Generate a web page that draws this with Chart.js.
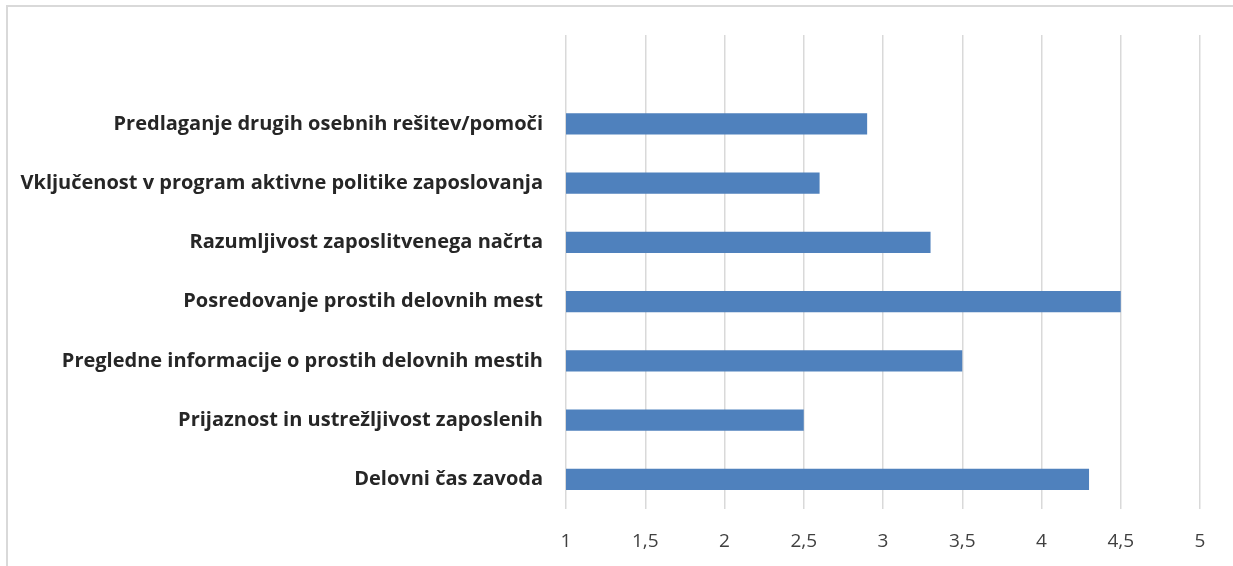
<!DOCTYPE html>
<html>
<head>
<meta charset="utf-8">
<script src="https://cdn.jsdelivr.net/npm/chart.js@4"></script>
<style>
  html, body { margin: 0; padding: 0; background: #fff; overflow: hidden; }
  #wrap { position: relative; width: 1233px; height: 566px; }
  #frame {
    position: absolute; left: 6px; top: 5px; width: 1300px; height: 600px;
    border-top: 2px solid #d9d9d9; border-left: 2px solid #d9d9d9;
  }
  #chart { position: absolute; left: 0; top: 0; }
</style>
</head>
<body>
<div id="wrap">
  <div id="frame"></div>
  <canvas id="chart" width="1233" height="566"></canvas>
</div>
<script>
// average ratings per service aspect (scale 1-5); first row is left blank on purpose
const categories = [
    '',
    'Predlaganje drugih osebnih rešitev/pomoči',
    'Vključenost v program aktivne politike zaposlovanja',
    'Razumljivost zaposlitvenega načrta',
    'Posredovanje prostih delovnih mest',
    'Pregledne informacije o prostih delovnih mestih',
    'Prijaznost in ustrežljivost zaposlenih',
    'Delovni čas zavoda'
];
const ratings = [null, 2.9, 2.6, 3.3, 4.5, 3.5, 2.5, 4.3];
const scaleMin = 1;
const scaleMax = 5;
const scaleStep = 0.5;

const ctx = document.getElementById('chart').getContext('2d');

new Chart(ctx, {
    type: 'bar',
    data: {
        labels: categories,
        datasets: [{
            data: ratings,
            backgroundColor: '#4f81bd',
            borderWidth: 0,
            barPercentage: 0.355,
            categoryPercentage: 1
        }]
    },
    options: {
        indexAxis: 'y',
        responsive: false,
        animation: false,
        devicePixelRatio: 1,
        layout: { padding: { top: 35, right: 33, left: 0, bottom: 0 } },
        plugins: {
            legend: { display: false },
            tooltip: { enabled: false },
            title: { display: false }
        },
        scales: {
            x: {
                min: scaleMin,
                max: scaleMax,
                border: { display: false },
                grid: { color: '#d9d9d9', lineWidth: 1.5, drawTicks: false },
                ticks: {
                    stepSize: scaleStep,
                    padding: 21,
                    color: '#404040',
                    font: { family: 'Open Sans', size: 19 },
                    callback: function(v) { return String(v).replace('.', ','); }
                },
                afterFit: function(scale) { scale.height = 57; }
            },
            y: {
                border: { display: false },
                grid: { display: false, drawTicks: false },
                ticks: {
                    padding: 23,
                    color: '#262626',
                    font: { family: 'Open Sans', size: 20, weight: 'bold' }
                },
                afterFit: function(scale) { scale.width = 566; }
            }
        }
    }
});
</script>
</body>
</html>
